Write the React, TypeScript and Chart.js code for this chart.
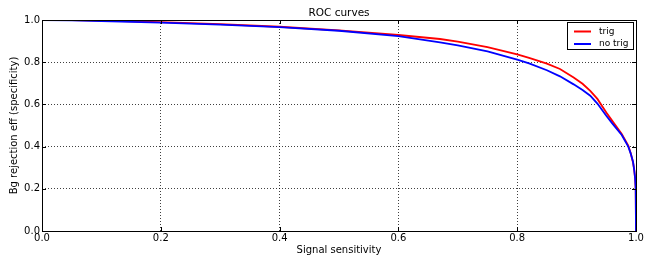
import React, { useEffect, useRef } from "react";
import { Chart, registerables } from "chart.js";

Chart.register(...registerables);

const sensitivity = [0, 0.05, 0.1, 0.2, 0.3, 0.4, 0.5, 0.6, 0.67, 0.7, 0.75, 0.8, 0.82, 0.85, 0.872, 0.895, 0.91, 0.923, 0.935, 0.95, 0.96, 0.976, 0.987, 0.991, 0.995, 0.997, 0.9985, 0.9995, 1.0];
const trigSpecificity = [1.0, 0.999, 0.997, 0.99, 0.98, 0.968, 0.951, 0.929, 0.91, 0.897, 0.872, 0.837, 0.82, 0.793, 0.768, 0.728, 0.698, 0.664, 0.626, 0.562, 0.522, 0.46, 0.405, 0.37, 0.325, 0.29, 0.25, 0.2, 0.0];
const noTrigSpecificity = [1.0, 0.998, 0.995, 0.988, 0.978, 0.966, 0.949, 0.924, 0.894, 0.88, 0.851, 0.812, 0.794, 0.762, 0.733, 0.695, 0.668, 0.641, 0.604, 0.546, 0.51, 0.455, 0.4, 0.368, 0.328, 0.289, 0.25, 0.2, 0.0];

const seriesNames = ["trig", "no trig"];
const seriesColors = ["#ff0000", "#0000ff"];
const tickValues = [0, 0.2, 0.4, 0.6, 0.8, 1.0];
const chartTitle = "ROC curves";
const xTitle = "Signal sensitivity";
const yTitle = "Bg rejection eff (specificity)";

const FONT = "'DejaVu Sans', sans-serif";

const decorPlugin = {
  id: "decor",
  afterDraw(chart: any) {
    const ctx = chart.ctx;
    const { left, right, top, bottom } = chart.chartArea;
    const xs = chart.scales.x;
    const ys = chart.scales.y;
    ctx.save();
    ctx.strokeStyle = "#000";
    ctx.lineWidth = 1;
    ctx.strokeRect(Math.round(left) + 0.5, Math.round(top) + 0.5, Math.round(right - left), Math.round(bottom - top));
    const tl = 4;
    ctx.beginPath();
    tickValues.forEach((v) => {
      const px = Math.round(xs.getPixelForValue(v)) + 0.5;
      ctx.moveTo(px, bottom); ctx.lineTo(px, bottom - tl);
      ctx.moveTo(px, top); ctx.lineTo(px, top + tl);
      const py = Math.round(ys.getPixelForValue(v)) + 0.5;
      ctx.moveTo(left, py); ctx.lineTo(left + tl, py);
      ctx.moveTo(right, py); ctx.lineTo(right - tl, py);
    });
    ctx.stroke();
    ctx.fillStyle = "#000";
    ctx.font = `10.5px ${FONT}`;
    ctx.textAlign = "center";
    ctx.textBaseline = "alphabetic";
    ctx.fillText(chartTitle, (left + right) / 2, 16);
    const bx = 567.5, by = 22.5, bw = 66, bh = 27;
    ctx.fillStyle = "#fff";
    ctx.fillRect(bx, by, bw, bh);
    ctx.strokeStyle = "#000";
    ctx.lineWidth = 1;
    ctx.strokeRect(bx, by, bw, bh);
    ctx.font = `9px ${FONT}`;
    ctx.textAlign = "left";
    ctx.textBaseline = "middle";
    seriesNames.forEach((name, i) => {
      const y = 31.5 + i * 12.5;
      ctx.strokeStyle = seriesColors[i];
      ctx.lineWidth = 2;
      ctx.beginPath();
      ctx.moveTo(574, y);
      ctx.lineTo(591, y);
      ctx.stroke();
      ctx.fillStyle = "#000";
      ctx.fillText(name, 599, y);
    });
    ctx.restore();
  },
};

export default function App() {
  const ref = useRef<HTMLCanvasElement | null>(null);
  useEffect(() => {
    if (!ref.current) return;
    const toPts = (ys: number[]) => sensitivity.map((x, i) => ({ x, y: ys[i] }));
    const gridCommon = {
      color: "rgba(0,0,0,0.75)",
      lineWidth: 1,
      drawTicks: false,
    };
    const chart = new Chart(ref.current, {
      type: "line",
      data: {
        datasets: [
          {
            label: seriesNames[1],
            data: toPts(noTrigSpecificity),
            borderColor: seriesColors[1],
            borderWidth: 1.8,
            pointRadius: 0,
            tension: 0,
            fill: false,
          },
          {
            label: seriesNames[0],
            data: toPts(trigSpecificity),
            borderColor: seriesColors[0],
            borderWidth: 1.8,
            pointRadius: 0,
            tension: 0,
            fill: false,
          },
        ],
      },
      options: {
        animation: false,
        responsive: false,
        devicePixelRatio: 1,
        layout: { padding: { top: 20, right: 10, left: 0, bottom: 0 } },
        plugins: {
          legend: { display: false },
          tooltip: { enabled: false },
          title: { display: false },
        },
        scales: {
          x: {
            type: "linear",
            min: 0,
            max: 1,
            afterBuildTicks: (s: any) => { s.ticks = tickValues.map((v) => ({ value: v })); },
            afterFit: (s: any) => { s.height = 29; },
            ticks: {
              padding: 1,
              color: "#000",
              font: { family: FONT, size: 10 },
              callback: (v: any) => Number(v).toFixed(1),
              maxRotation: 0,
            },
            grid: gridCommon,
            border: { display: false, dash: [1, 2] },
            title: {
              display: true,
              text: xTitle,
              color: "#000",
              font: { family: FONT, size: 10 },
              padding: { top: 0, bottom: 4 },
            },
          },
          y: {
            type: "linear",
            min: 0,
            max: 1,
            afterBuildTicks: (s: any) => { s.ticks = tickValues.map((v) => ({ value: v })); },
            afterFit: (s: any) => { s.width = 42; },
            ticks: {
              padding: 2,
              color: "#000",
              font: { family: FONT, size: 10 },
              callback: (v: any) => Number(v).toFixed(1),
            },
            grid: gridCommon,
            border: { display: false, dash: [1, 2] },
            title: {
              display: true,
              text: yTitle,
              color: "#000",
              font: { family: FONT, size: 10 },
              padding: { top: 8, bottom: 0 },
            },
          },
        },
      },
      plugins: [decorPlugin],
    } as any);
    return () => chart.destroy();
  }, []);
  return (
    <div style={{ position: "fixed", left: 0, top: 0, width: 646, height: 260, background: "#fff" }}>
      <canvas ref={ref} width={646} height={260} style={{ width: 646, height: 260, display: "block" }} />
    </div>
  );
}
